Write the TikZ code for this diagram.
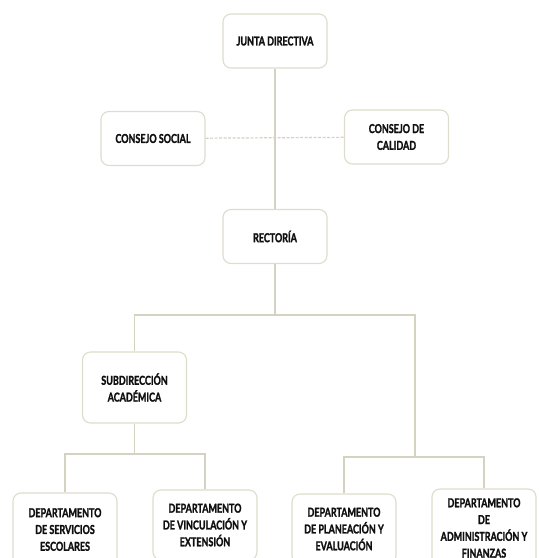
\documentclass[tikz,border=0pt]{standalone}
\usepackage{fontspec}
\setmainfont{Lato}[FakeStretch=0.74,BoldFont={Lato Bold},BoldFeatures={FakeStretch=0.73,FakeBold=1.6}]
\usepackage{tikz}
\usetikzlibrary{positioning}

\definecolor{boxline}{RGB}{222,220,204}
\definecolor{linkline}{RGB}{212,210,192}
\definecolor{boxtext}{RGB}{15,15,15}

\begin{document}
\begin{tikzpicture}[x=1pt,y=-1pt,
  every node/.style={font=\bfseries\fontsize{12.3}{16.8}\selectfont,text=boxtext,align=center},
  orgbox/.style={draw=boxline,line width=1.1pt,rounded corners=8pt,fill=white,
    minimum width=104pt,minimum height=54pt,inner sep=2pt},
  link/.style={draw=linkline,line width=1.2pt},
  dashlink/.style={link,dashed,dash pattern=on 3pt off 1.5pt}]
  \useasboundingbox (0,0) rectangle (539,558);
  \clip (0,0) rectangle (539,558);
  % top level
  \node[orgbox] (junta) at (275,41) {JUNTA DIRECTIVA};
  \node[orgbox] (social) at (153,138.5) {CONSEJO SOCIAL};
  \node[orgbox] (calidad) at (396.5,137) {CONSEJO DE\\CALIDAD};
  \node[orgbox] (rector) at (275,236.5) {RECTORÍA};
  % second level
  \node[orgbox,minimum height=71pt] (subdir) at (134.5,387.5) {SUBDIRECCIÓN\\ACADÉMICA};
  % departments
  \node[orgbox,minimum height=73pt] (servicios) at (65,529.5) {DEPARTAMENTO\\DE SERVICIOS\\ESCOLARES};
  \node[orgbox,minimum height=70pt] (vinculacion) at (205,525) {DEPARTAMENTO\\DE VINCULACIÓN Y\\EXTENSIÓN};
  \node[orgbox,minimum height=70pt] (planeacion) at (344,529) {DEPARTAMENTO\\DE PLANEACIÓN Y\\EVALUACIÓN};
  \node[orgbox,minimum height=78pt] (admin) at (484,528) {DEPARTAMENTO\\DE\\ADMINISTRACIÓN Y\\FINANZAS};
  % bus points
  \coordinate (mainbus) at (275,315);
  \coordinate (rightdrop) at (415,457);
  \coordinate (subbus) at (134.5,454);
  % connectors
  \draw[link] (junta) -- (rector);
  \draw[dashlink] (social) -- (calidad);
  \draw[link] (rector) -- (mainbus);
  \draw[link] (subdir.north) |- (mainbus) -| (rightdrop);
  \draw[link] (planeacion.north) |- (rightdrop) -| (admin.north);
  \draw[link] (subdir) -- (subbus);
  \draw[link] (servicios.north) |- (subbus) -| (vinculacion.north);
\end{tikzpicture}
\end{document}
